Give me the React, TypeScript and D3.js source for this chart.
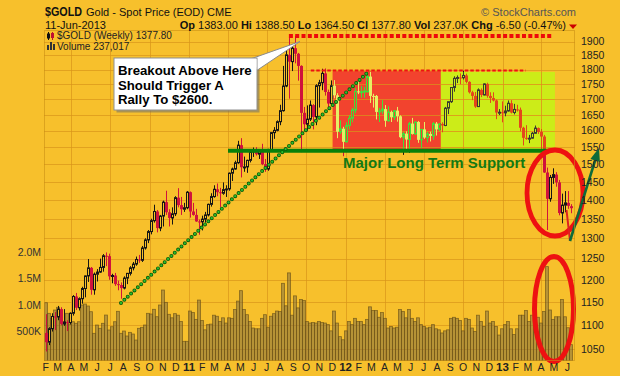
import React from 'react';
import * as d3 from 'd3';

// ---------- DATA ----------
const firstWeek = new Date(2010, 1, 1); // Monday of first weekly bar

const opens = [1083,1064,1092,1118,1117,1134,1102,1106,1105,1125,1162,1137,1157,1180,1209,1228,1177,1213,1218,1229,1257,1256,1208,1210,1190,1188,1181,1204,1215,1228,1237,1248,1246,1276,1296,1317,1345,1369,1326,1357,1394,1367,1352,1363,1406,1386,1375,1379,
1421,1369,1360,1343,1342,1349,1360,1388,1409,1429,1421,1418,1428,1430,1474,1486,1504,1556,1491,1492,1511,1536,1542,1529,1539,1500,1486,1542,1594,1601,1628,1663,1744,1852,1828,1876,1856,1813,1656,1620,1636,1681,1643,1745,1755,1787,1724,1686,1745,1713,1597,1606,
1566,1616,1639,1665,1726,1725,1725,1725,1776,1711,1711,1659,1662,1668,1631,1659,1642,1663,1645,1580,1591,1573,1622,1590,1627,1572,1604,1579,1590,1584,1622,1604,1621,1616,1671,1692,1739,1770,1773,1772,1780,1758,1723,1711,1676,1731,1714,1751,1711,1704,1696,1657,
1658,1656,1662,1687,1657,1667,1666,1609,1578,1576,1577,1592,1608,1596,1582,1476,1403,1462,1470,1448,1365,1386,1392,1383];
const highs = [1123,1095,1125,1128,1141,1138,1134,1110,1127,1165,1170,1160,1184,1210,1249,1230,1217,1225,1250,1261,1265,1262,1214,1216,1198,1194,1208,1216,1232,1242,1255,1259,1281,1300,1321,1350,1387,1373,1360,1398,1425,1375,1380,1410,1432,1408,1392,1424,
1423,1392,1376,1348,1358,1368,1390,1418,1440,1445,1433,1448,1440,1476,1490,1510,1569,1577,1522,1513,1538,1549,1550,1543,1560,1515,1545,1595,1611,1632,1682,1813,1877,1913,1889,1921,1859,1815,1675,1680,1696,1684,1750,1765,1803,1804,1732,1763,1764,1720,1632,1612,
1626,1648,1672,1738,1764,1744,1741,1790,1792,1718,1714,1672,1697,1681,1677,1663,1665,1675,1648,1596,1598,1627,1640,1628,1630,1605,1627,1596,1597,1627,1627,1623,1626,1675,1693,1740,1777,1780,1787,1796,1786,1760,1728,1724,1736,1736,1753,1755,1723,1723,1699,1668,
1693,1679,1696,1697,1685,1682,1673,1612,1617,1587,1596,1616,1610,1605,1587,1490,1469,1488,1477,1455,1417,1424,1424,1388.5];
const lows = [1045,1058,1086,1089,1110,1099,1098,1087,1101,1120,1132,1131,1146,1160,1195,1166,1166,1196,1216,1219,1232,1200,1192,1186,1176,1157,1178,1190,1210,1222,1233,1240,1242,1272,1288,1310,1340,1315,1318,1330,1360,1330,1335,1357,1380,1360,1368,1375,
1353,1358,1342,1309,1320,1340,1356,1382,1406,1410,1381,1414,1408,1425,1452,1484,1501,1462,1478,1475,1505,1521,1525,1515,1497,1478,1481,1538,1575,1598,1617,1660,1740,1702,1795,1822,1762,1535,1599,1600,1630,1604,1617,1673,1730,1712,1667,1680,1703,1577,1590,1523,
1564,1604,1626,1655,1717,1705,1705,1722,1688,1673,1635,1627,1652,1612,1628,1627,1633,1628,1577,1527,1535,1533,1588,1587,1563,1547,1575,1564,1567,1572,1585,1599,1595,1614,1652,1688,1725,1754,1750,1766,1753,1719,1697,1672,1675,1707,1713,1705,1688,1693,1636,1649,
1626,1645,1660,1654,1651,1660,1598,1555,1572,1562,1575,1590,1590,1539,1475,1321,1395,1444,1436,1359,1338,1367,1376,1364.5];
const closes = [1064,1092,1118,1117,1134,1102,1106,1105,1125,1162,1137,1157,1180,1209,1228,1177,1213,1218,1229,1257,1256,1208,1210,1190,1188,1181,1204,1215,1228,1237,1248,1246,1276,1296,1317,1345,1369,1326,1357,1394,1367,1352,1363,1406,1386,1375,1379,1421,
1369,1360,1343,1342,1349,1360,1388,1409,1429,1421,1418,1428,1430,1474,1486,1504,1556,1491,1492,1511,1536,1542,1529,1539,1500,1486,1542,1594,1601,1628,1663,1744,1852,1828,1876,1856,1813,1656,1620,1636,1681,1643,1745,1755,1787,1724,1686,1745,1713,1597,1606,1566,
1616,1639,1665,1726,1725,1725,1727,1776,1711,1710,1659,1662,1668,1631,1659,1642,1663,1645,1580,1591,1573,1622,1590,1627,1572,1604,1579,1590,1584,1622,1604,1621,1616,1671,1692,1739,1770,1773,1772,1780,1758,1723,1711,1676,1731,1714,1751,1711,1704,1696,1657,1658,
1656,1662,1687,1657,1667,1666,1609,1578,1576,1577,1592,1608,1596,1582,1476,1403,1462,1470,1448,1365,1386,1392,1384,1377.8];
// weekly volume, thousands
const volumes = [1039,836,740,899,951,771,675,836,631,675,645,675,995,1014,976,867,453,612,549,645,803,517,580,675,874,453,497,402,472,440,325,549,568,612,836,823,913,771,995,1282,1046,817,
750,830,800,680,300,300,880,850,720,1090,700,520,620,630,800,780,680,750,650,750,740,910,1070,1270,910,810,680,555,540,540,740,810,570,780,830,880,870,1410,980,1610,800,1170,940,1100,1080,680,650,660,650,680,660,650,620,500,880,650,390,330,
500,680,620,740,680,680,620,720,960,890,890,760,850,740,555,585,555,570,910,870,750,910,740,680,750,620,585,555,570,620,540,520,460,500,520,740,760,740,700,500,740,720,555,490,800,680,585,880,650,680,585,420,
540,620,680,540,430,540,800,800,890,680,800,740,760,650,870,1730,900,720,770,770,1100,770,560,237];

const priceTicks = [1050,1100,1150,1200,1250,1300,1350,1400,1450,1500,1550,1600,1650,1700,1750,1800,1850,1900];
const volTicks = [500, 1000, 1500, 2000];
const volTickLabels = ['500K', '1.0M', '1.5M', '2.0M'];
const monthLabels = ['F','M','A','M','J','J','A','S','O','N','D','11','F','M','A','M','J','J','A','S','O','N','D','12','F','M','A','M','J','J','A','S','O','N','D','13','F','M','A','M','J'];

const calloutLines = ['Breakout Above Here', 'Should Trigger A', 'Rally To $2600.'];

// ---------- STYLE / LAYOUT ----------
const BG = '#f7c02c';
const GRID = '#d9961a';
const FONT = "'Liberation Sans', Arial, sans-serif";
const L = 44, R = 575, T = 30, B = 361;

export default function App() {
  const x = d3.scaleTime().domain([new Date(2010, 0, 28), new Date(2013, 5, 19)]).range([L, R]);
  const y = d3.scaleLog().domain([1026, 1943]).range([B, T]);
  const yv = d3.scaleLinear().domain([0, 2000]).range([357, 252.5]);

  const weeks = closes.map((_, i) => d3.timeDay.offset(firstWeek, 7 * i));
  const months = d3.timeMonth.range(new Date(2010, 1, 1), new Date(2013, 6, 1));
  const quarters = months.filter((m) => m.getMonth() % 3 === 0);
  const cxs = weeks.map((w) => Math.round(x(w)) + 0.5);

  // annotation geometry in data terms
  const redBox = { x0: x(new Date(2011, 11, 2)), x1: x(new Date(2012, 7, 10)), y0: y(1794), y1: y(1543) };
  const limeBox = { x0: x(new Date(2012, 7, 10)), x1: x(new Date(2013, 4, 3)), y0: y(1792), y1: y(1543) };
  const yTop = y(1921);
  const yRange = y(1797);
  const ySupport = y(1539);

  const candles = (upStroke: string, upFill: string, downColor: string, keyp: string) =>
    closes.map((c, i) => {
      const o = opens[i];
      const cx = cxs[i];
      const up = c >= o;
      const bt = y(Math.max(o, c));
      const bb = y(Math.min(o, c));
      const h = Math.max(1, bb - bt);
      if (up) {
        return (
          <g key={keyp + i}>
            <line x1={cx} x2={cx} y1={y(highs[i])} y2={bt} stroke={upStroke} strokeWidth={1} />
            <line x1={cx} x2={cx} y1={bt + h} y2={y(lows[i])} stroke={upStroke} strokeWidth={1} />
            <rect x={cx - 1} y={bt} width={2} height={h} fill={upFill} stroke={upStroke} strokeWidth={1} />
          </g>
        );
      }
      return (
        <g key={keyp + i}>
          <line x1={cx} x2={cx} y1={y(highs[i])} y2={y(lows[i])} stroke={downColor} strokeWidth={1} />
          <rect x={cx - 1.5} y={bt} width={3} height={h} fill={downColor} />
        </g>
      );
    });

  // arrow
  const a0 = [570, 241], a1 = [599, 148];
  const dx = a1[0] - a0[0], dy = a1[1] - a0[1];
  const len = Math.hypot(dx, dy);
  const ux = dx / len, uy = dy / len;
  const hb = [a1[0] - 13 * ux, a1[1] - 13 * uy];
  const px = -uy * 5, py = ux * 5;
  const head = `${a1[0]},${a1[1]} ${hb[0] + px},${hb[1] + py} ${hb[0] - px},${hb[1] - py}`;

  const trendLine = d3.line()([[121, 303], [367, 73]]) as string;

  return (
    <svg width={620} height={376} style={{ position: 'absolute', left: 0, top: 0, display: 'block' }} fontFamily={FONT}>
      <defs>
        <clipPath id="redClip"><rect x={redBox.x0} y={redBox.y0} width={redBox.x1 - redBox.x0} height={redBox.y1 - redBox.y0} /></clipPath>
        <clipPath id="limeClip"><rect x={limeBox.x0} y={limeBox.y0} width={limeBox.x1 - limeBox.x0} height={limeBox.y1 - limeBox.y0} /></clipPath>
        <clipPath id="panelClip"><rect x={L} y={T} width={R - L} height={B - T} /></clipPath>
      </defs>
      <rect x={0} y={0} width={620} height={376} fill={BG} />

      {/* shaded boxes */}
      <rect x={redBox.x0} y={redBox.y0} width={redBox.x1 - redBox.x0} height={redBox.y1 - redBox.y0} fill="#f2432e" />
      <rect x={limeBox.x0} y={limeBox.y0} width={limeBox.x1 - limeBox.x0} height={limeBox.y1 - limeBox.y0} fill="#ccec18" />

      {/* grid */}
      <g stroke={GRID} strokeOpacity={0.7} strokeWidth={1}>
        {priceTicks.map((p) => (
          <line key={'h' + p} x1={L} x2={R} y1={Math.round(y(p)) + 0.5} y2={Math.round(y(p)) + 0.5} />
        ))}
        {quarters.map((q, i) => (
          <line key={'v' + i} x1={Math.round(x(q)) + 0.5} x2={Math.round(x(q)) + 0.5} y1={T} y2={B} />
        ))}
      </g>

      {/* volume */}
      <g clipPath="url(#panelClip)">
        {volumes.map((v, i) => (
          <rect key={'vol' + i} x={cxs[i] - 2} y={yv(v)} width={3} height={yv(0) - yv(v) + 4}
            fill="#7a6a40" fillOpacity={0.52} stroke="#6a5015" strokeOpacity={0.75} strokeWidth={0.8} />
        ))}
      </g>

      {/* candles */}
      <g>{candles('#151515', BG, '#d0123c', 'n')}</g>
      <g clipPath="url(#redClip)">
        <rect x={redBox.x0} y={redBox.y0} width={redBox.x1 - redBox.x0} height={redBox.y1 - redBox.y0} fill="#f2432e" />
        <g stroke={GRID} strokeOpacity={0.7}>
          {priceTicks.map((p) => (
            <line key={'rh' + p} x1={L} x2={R} y1={Math.round(y(p)) + 0.5} y2={Math.round(y(p)) + 0.5} />
          ))}
        </g>
        {candles('#3fe03a', '#f2432e', '#e6f064', 'r')}
      </g>
      <g clipPath="url(#limeClip)">
        <rect x={limeBox.x0} y={limeBox.y0} width={limeBox.x1 - limeBox.x0} height={limeBox.y1 - limeBox.y0} fill="#ccec18" />
        <g stroke="#e0901a" strokeOpacity={0.8}>
          {priceTicks.map((p) => (
            <line key={'lh' + p} x1={L} x2={R} y1={Math.round(y(p)) + 0.5} y2={Math.round(y(p)) + 0.5} />
          ))}
          {quarters.map((q, i) => (
            <line key={'lv' + i} x1={Math.round(x(q)) + 0.5} x2={Math.round(x(q)) + 0.5} y1={T} y2={B} />
          ))}
        </g>
        {candles('#3a3a30', '#ccec18', '#e4461c', 'l')}
      </g>

      {/* annotations */}
      <line x1={x(new Date(2011, 7, 22))} x2={x(new Date(2013, 3, 25))} y1={yTop} y2={yTop} stroke="#ee0a0a" strokeWidth={4} strokeDasharray="4 2.3" />
      <line x1={x(new Date(2011, 9, 12))} x2={x(new Date(2013, 1, 24))} y1={yRange} y2={yRange} stroke="#ee1111" strokeWidth={2} strokeDasharray="3.5 2" />
      <line x1={228} x2={552} y1={ySupport} y2={ySupport} stroke="#08800a" strokeWidth={4} />
      <path d={trendLine} stroke="#0a5c0a" strokeWidth={4} strokeDasharray="0 4.6" strokeLinecap="round" fill="none" />
      <path d={trendLine} stroke="#2cc02c" strokeWidth={2.3} strokeDasharray="0 4.6" strokeLinecap="round" fill="none" />
      <text x={343} y={167.5} fontSize={15} fontWeight="bold" fill="#137a13">Major Long Term Support</text>

      {/* callout */}
      <rect x={116.5} y={60.5} width={143} height={52} fill="#6e6e6e" fillOpacity={0.55} />
      <polygon points="249,59.5 257.5,70 300,41.5" fill="#ffffff" stroke="#8a8a8a" strokeWidth={1} />
      <rect x={114} y={58} width={143} height={52} fill="#ffffff" stroke="#8f8f8f" strokeWidth={1} />
      <polygon points="250,59 256.5,59 256.5,69 257.5,69.5" fill="#ffffff" />
      {calloutLines.map((t, i) => (
        <text key={t} x={118} y={75 + i * 14.6} fontSize={13.2} fontWeight="bold" fill="#000">{t}</text>
      ))}

      {/* ellipses and arrows */}
      <ellipse cx={555} cy={193} rx={28} ry={43} fill="none" stroke="#ee1111" strokeWidth={4.8} />
      <ellipse cx={554} cy={309} rx={19.5} ry={52.5} fill="none" stroke="#ee1111" strokeWidth={5} />
      <line x1={566.5} y1={210} x2={570} y2={241} stroke="#dd2020" strokeWidth={2} />
      <line x1={a0[0]} y1={a0[1]} x2={hb[0]} y2={hb[1]} stroke="#0d6b3a" strokeWidth={2.6} />
      <polygon points={head} fill="#0d6b3a" />

      {/* panel border */}
      <rect x={L + 0.5} y={T + 0.5} width={R - L - 1} height={B - T - 1} fill="none" stroke="#c99016" strokeOpacity={0.6} />

      {/* right price axis */}
      {priceTicks.map((p) => (
        <text key={'pt' + p} x={581} y={y(p) + 3.8} fontSize={10.5} fill="#222">{p}</text>
      ))}
      {/* left volume axis */}
      {volTicks.map((v, i) => (
        <text key={'vt' + v} x={41} y={yv(v) + 3.8} fontSize={10.5} fill="#333" textAnchor="end">{volTickLabels[i]}</text>
      ))}
      {/* month labels */}
      {months.map((m, i) => (
        <text key={'m' + i} x={x(m)} y={371} fontSize={/^\d/.test(monthLabels[i]) ? 11.5 : 10.5}
          fontWeight={/^\d/.test(monthLabels[i]) ? 'bold' : 'normal'} fill="#222" textAnchor="middle">{monthLabels[i]}</text>
      ))}

      {/* header */}
      <text x={45} y={16} fontSize={12.5} fontWeight="bold" fill="#111" textLength={37} lengthAdjust="spacingAndGlyphs">$GOLD</text>
      <text x={86} y={16} fontSize={11} fill="#111">Gold - Spot Price (EOD) CME</text>
      <text x={576} y={16} fontSize={11} fill="#555" textAnchor="end">© StockCharts.com</text>
      <text x={45} y={28.5} fontSize={11} fill="#111">11-Jun-2013</text>
      <text x={566} y={28.5} fontSize={11} fill="#111" textAnchor="end">
        <tspan fontWeight="bold">Op</tspan> 1383.00 <tspan fontWeight="bold">Hi</tspan> 1388.50 <tspan fontWeight="bold">Lo</tspan> 1364.50 <tspan fontWeight="bold">Cl</tspan> 1377.80 <tspan fontWeight="bold">Vol</tspan> 237.0K <tspan fontWeight="bold">Chg</tspan> -6.50 (-0.47%)
      </text>
      <polygon points="569,24.5 577,24.5 573,29" fill="#cc0000" />

      {/* legend */}
      <g>
        <line x1={48.5} x2={48.5} y1={32} y2={40} stroke="#111" />
        <rect x={47.5} y={34} width={2} height={4} fill="none" stroke="#111" />
        <line x1={52.5} x2={52.5} y1={32} y2={40} stroke="#c01030" />
        <rect x={51} y={33} width={3} height={5} fill="#c01030" />
        <text x={57} y={39} fontSize={10} fill="#222">$GOLD (Weekly) 1377.80</text>
        <rect x={47} y={45} width={2} height={5} fill="#333" />
        <rect x={50} y={42} width={2} height={8} fill="#333" />
        <rect x={53} y={44} width={2} height={6} fill="#333" />
        <text x={57} y={49.5} fontSize={10} fill="#222">Volume 237,017</text>
      </g>
    </svg>
  );
}
